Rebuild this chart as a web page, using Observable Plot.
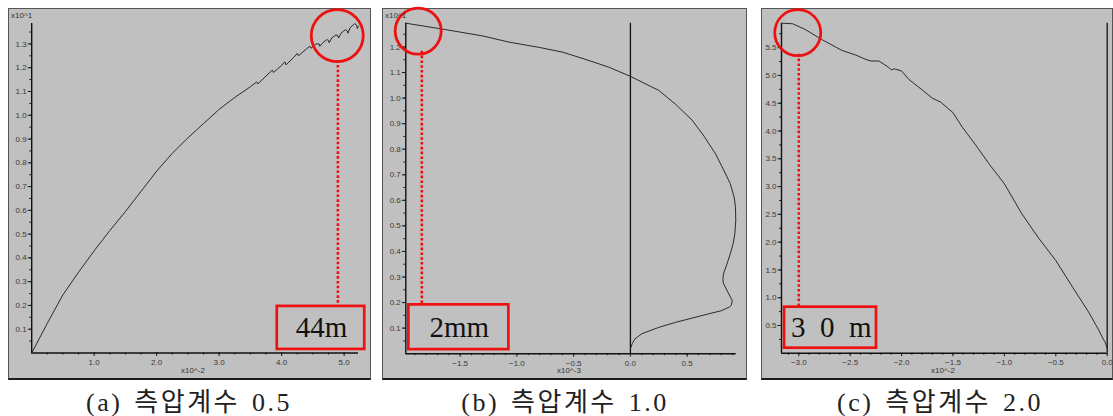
<!DOCTYPE html>
<html>
<head>
<meta charset="utf-8">
<script src="https://cdn.jsdelivr.net/npm/d3@7"></script>
<script src="https://cdn.jsdelivr.net/npm/@observablehq/plot@0.6"></script>
<style>
  html, body { margin: 0; padding: 0; background: #ffffff; }
  #root { position: relative; width: 1113px; height: 416px; overflow: hidden; }
  .box { position: absolute; box-sizing: border-box; border: 1px solid #555; border-bottom: 2px solid #1a1a1a; background: #c0c0c0; }
  .box svg { display: block; }
  .cap { position: absolute; top: 381px; font-family: "Liberation Serif", "Noto Sans CJK KR", serif; font-size: 26px; letter-spacing: 2.5px; word-spacing: 3px; color: #222; white-space: pre; transform: translateX(-50%); }
  .lab { position: absolute; font-family: "Liberation Sans", Arial, sans-serif; font-size: 8px; color: #333; white-space: pre; }
</style>
</head>
<body>
<div id="root"></div>
<script>
// ---------- (a) lateral pressure coefficient 0.5 ----------
const aX = [0,0.25,0.5,0.75,1.0,1.25,1.5,1.75,2.0,2.25,2.5,2.75,3.0,3.25,3.5,3.6,3.62,3.75,3.85,3.87,4.0,4.05,4.07,4.2,4.25,4.27,4.4,4.45,4.47,4.55,4.6,4.61,4.66,4.72,4.75,4.76,4.8,4.87,4.9,4.91,4.95,5.02,5.05,5.06,5.1,5.17,5.2,5.21,5.23];
const aY = [0,0.125,0.245,0.34,0.43,0.515,0.595,0.68,0.765,0.84,0.905,0.965,1.025,1.075,1.12,1.14,1.132,1.165,1.19,1.18,1.21,1.225,1.212,1.245,1.26,1.25,1.28,1.29,1.282,1.30,1.30,1.29,1.305,1.318,1.315,1.305,1.325,1.338,1.335,1.325,1.345,1.36,1.355,1.345,1.37,1.385,1.38,1.365,1.375];
const aXTicks = [1.0,2.0,3.0,4.0,5.0];
const aYTicks = [0.1,0.2,0.3,0.4,0.5,0.6,0.7,0.8,0.9,1.0,1.1,1.2,1.3];

// ---------- (b) lateral pressure coefficient 1.0 ----------
const bX = [-1.98,-1.63,-1.3,-1.07,-0.8,-0.6,-0.4,-0.19,0,0.25,0.4,0.545,0.65,0.75,0.82,0.88,0.915,0.926,0.928,0.92,0.905,0.88,0.85,0.82,0.815,0.82,0.86,0.897,0.89,0.87,0.8,0.69,0.55,0.40,0.25,0.10,0.04,0.016,0];
const bY = [1.293,1.268,1.243,1.219,1.198,1.18,1.152,1.121,1.085,1.03,0.975,0.913,0.85,0.782,0.72,0.665,0.61,0.573,0.52,0.469,0.43,0.391,0.35,0.313,0.29,0.274,0.24,0.208,0.19,0.182,0.168,0.156,0.14,0.123,0.103,0.078,0.058,0.039,0.02];
const bXTicks = [-1.5,-1.0,-0.5,0.0,0.5];
const bYTicks = [0.1,0.2,0.3,0.4,0.5,0.6,0.7,0.8,0.9,1.0,1.1,1.2];

// ---------- (c) lateral pressure coefficient 2.0 ----------
const cX = [-3.16,-3.06,-2.94,-2.77,-2.58,-2.45,-2.35,-2.3,-2.22,-2.13,-2.1,-2.07,-2.0,-1.93,-1.8,-1.70,-1.62,-1.5,-1.41,-1.28,-1.15,-1.0,-0.83,-0.67,-0.50,-0.34,-0.18,-0.08,-0.04,-0.02,0];
const cY = [5.94,5.93,5.83,5.64,5.45,5.37,5.29,5.26,5.26,5.15,5.1,5.12,5.08,4.93,4.74,4.59,4.52,4.33,4.07,3.75,3.41,3.05,2.51,2.08,1.67,1.2,0.74,0.41,0.26,0.2,0.09];
const cXTicks = [-3.0,-2.5,-2.0,-1.5,-1.0,-0.5,0.0];
const cYTicks = [0.5,1.0,1.5,2.0,2.5,3.0,3.5,4.0,4.5,5.0,5.5];

// annotation labels & captions
const annTexts = ["44m", "2mm", "3\u20020\u2002m"];
const captions = ["(a) 측압계수 0.5", "(b) 측압계수 1.0", "(c) 측압계수 2.0"];
const topExp = ["x10^1", "x10^1", ""];
const bottomExp = ["x10^-2", "x10^-3", "x10^-2"];

// annotation positions (data units of each panel)
const annA = {cx: 4.89, cy: 1.335, lx: 4.9, ly1: 1.23, ly2: 0.196, x1: 3.93, x2: 5.33, y1: 0.015, y2: 0.196, tx: 4.64, ty: 0.107};
const annB = {cx: -1.87, cy: 1.262, lx: -1.838, ly1: 1.183, ly2: 0.191, x1: -1.952, x2: -1.071, y1: 0.016, y2: 0.191, tx: -1.508, ty: 0.103};
const annC = {cx: -3.01, cy: 5.77, lx: -3.0, ly1: 5.38, ly2: 0.83, x1: -3.138, x2: -2.244, y1: 0.092, y2: 0.83, tx: -2.684, ty: 0.46};

const zip = (xs, ys) => xs.map((x, i) => ({x, y: ys[i]}));
const RED = "#ee1111";
const fmt = d3.format(".1f");

function panel(cfg) {
  const {w, h, m, xDomain, yDomain, data, xTicks, yTicks, xMinor, yMinor, zeroRule, ann, text, r} = cfg;
  const marks = [
    Plot.axisX({ticks: xMinor, tickSize: 2, tickFormat: () => "", label: null, stroke: "#222"}),
    Plot.axisX({ticks: xTicks, tickSize: 3.5, tickPadding: 3, tickFormat: fmt, label: null, stroke: "#222", fill: "#3a3a3a", fontSize: 8}),
    Plot.axisY({ticks: yMinor, tickSize: 2, tickFormat: () => "", label: null, stroke: "#222"}),
    Plot.axisY({ticks: yTicks, tickSize: 3.5, tickPadding: 1.5, tickFormat: fmt, label: null, stroke: "#222", fill: "#3a3a3a", fontSize: 8}),
    Plot.ruleY([yDomain[0]], {x1: xDomain[0], x2: xDomain[1], stroke: "#111", strokeWidth: 1.4}),
    Plot.ruleX([xDomain[0]], {y1: yDomain[0], y2: yDomain[1], stroke: "#111", strokeWidth: 1.4})
  ];
  if (zeroRule) marks.push(Plot.ruleX([0], {y1: yDomain[0], y2: yDomain[1], stroke: "#111", strokeWidth: 1.3}));
  marks.push(Plot.line(data, {x: "x", y: "y", stroke: "#1a1a1a", strokeWidth: 0.9, curve: "linear"}));
  // red annotations
  marks.push(Plot.dot([ann], {x: "cx", y: "cy", r: r, stroke: RED, strokeWidth: 2.8, fill: "none"}));
  marks.push(Plot.ruleX([ann], {x: "lx", y1: "ly1", y2: "ly2", stroke: RED, strokeWidth: 2.6, strokeDasharray: "2.6,2.2"}));
  marks.push(Plot.rect([ann], {x1: "x1", x2: "x2", y1: "y1", y2: "y2", stroke: RED, strokeWidth: 2.7, fill: "none"}));
  marks.push(Plot.text([ann], {x: "tx", y: "ty", text: () => text, fontSize: 29, fontFamily: "Liberation Serif, DejaVu Serif, serif", fill: "#111", textAnchor: "middle", lineAnchor: "middle"}));
  return Plot.plot({
    width: w, height: h,
    marginTop: m[0], marginRight: m[1], marginBottom: m[2], marginLeft: m[3],
    style: {background: "#c0c0c0", fontFamily: "Liberation Sans, Arial, sans-serif", overflow: "visible", color: "#222"},
    x: {domain: xDomain, type: "linear"},
    y: {domain: yDomain, type: "linear"},
    marks
  });
}

const panels = [
  {left: 8, top: 8, W: 363, H: 372, cfg: {
    m: [14, 12, 25.5, 22.2], xDomain: [0, 5.23], yDomain: [0, 1.386], data: zip(aX, aY),
    xTicks: aXTicks, yTicks: aYTicks, xMinor: d3.range(0.25, 5.2, 0.25), yMinor: d3.range(0.05, 1.38, 0.05),
    zeroRule: false, ann: annA, text: annTexts[0], r: 26}},
  {left: 382, top: 8, W: 365, H: 372, cfg: {
    m: [13.7, 10.3, 24.8, 22.3], xDomain: [-1.979, 0.932], yDomain: [0, 1.293], data: zip(bX, bY),
    xTicks: bXTicks, yTicks: bYTicks, xMinor: d3.range(-1.9, 0.95, 0.1), yMinor: d3.range(0.05, 1.29, 0.05),
    zeroRule: true, ann: annB, text: annTexts[1], r: 23}},
  {left: 761, top: 8, W: 352, H: 372, cfg: {
    m: [13.7, 5.3, 25.2, 19], xDomain: [-3.168, 0], yDomain: [0, 5.94], data: zip(cX, cY),
    xTicks: cXTicks, yTicks: cYTicks, xMinor: d3.range(-3.1, 0.01, 0.1), yMinor: d3.range(0.25, 5.9, 0.25),
    zeroRule: true, ann: annC, text: annTexts[2], r: 23}}
];

const root = document.getElementById("root");
const capX = [189, 565, 940];
const topExpPos = [[11, 11], [385, 11], [0, 0]];
const botExpX = [193, 569, 943];

panels.forEach((p, i) => {
  const box = document.createElement("div");
  box.className = "box";
  Object.assign(box.style, {left: p.left + "px", top: p.top + "px", width: p.W + "px", height: p.H + "px"});
  const chart = panel({...p.cfg, w: p.W - 2, h: p.H - 3});
  box.appendChild(chart);
  root.appendChild(box);

  if (topExp[i]) {
    const s = document.createElement("span");
    s.className = "lab";
    s.textContent = topExp[i];
    Object.assign(s.style, {left: topExpPos[i][0] + "px", top: topExpPos[i][1] + "px"});
    root.appendChild(s);
  }
  const b = document.createElement("span");
  b.className = "lab";
  b.textContent = bottomExp[i];
  Object.assign(b.style, {left: botExpX[i] + "px", top: "366px", transform: "translateX(-50%)"});
  root.appendChild(b);

  const c = document.createElement("div");
  c.className = "cap";
  c.textContent = captions[i];
  c.style.left = capX[i] + "px";
  root.appendChild(c);
});
</script>
</body>
</html>
